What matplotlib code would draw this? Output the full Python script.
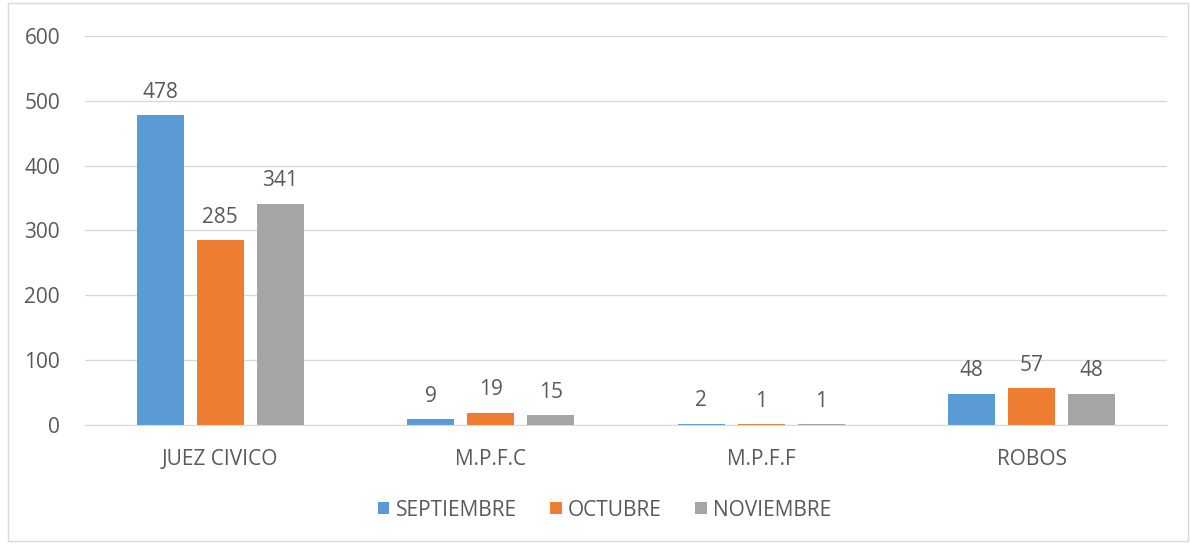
import matplotlib
matplotlib.use("Agg")
import matplotlib.pyplot as plt
import numpy as np
from matplotlib.patches import Rectangle

categories = ["JUEZ CIVICO", "M.P.F.C", "M.P.F.F", "ROBOS"]
series_names = ["SEPTIEMBRE", "OCTUBRE", "NOVIEMBRE"]
septiembre = [478, 9, 2, 48]
octubre = [285, 19, 1, 57]
noviembre = [341, 15, 1, 48]
colors = ["#5B9BD5", "#ED7D31", "#A5A5A5"]
yticks = [0, 100, 200, 300, 400, 500, 600]

plt.rcParams['font.family'] = ['Open Sans', 'DejaVu Sans']
txt_color = '#595959'
fs = 15

fig = plt.figure(figsize=(11.9, 5.44), dpi=100)
ax = fig.add_axes([85/1190, 1-425/544, (1167-85)/1190, (425-36)/544])

x = np.arange(len(categories))
width = 0.174
offsets = [-0.222, 0, 0.222]
for vals, name, c, off in zip([septiembre, octubre, noviembre], series_names, colors, offsets):
    bars = ax.bar(x + off, vals, width, color=c, label=name, zorder=3)
    for b, v in zip(bars, vals):
        ax.annotate(str(v), (b.get_x() + b.get_width()/2, v), xytext=(0, 9),
                    textcoords='offset points', ha='center', va='bottom',
                    fontsize=fs, color=txt_color)

ax.set_xlim(-0.5, len(categories) - 0.5)
ax.set_ylim(0, 600)
ax.set_yticks(yticks)
ax.set_xticks(x)
ax.set_xticklabels(categories)
ax.tick_params(axis='both', length=0, labelsize=fs, colors=txt_color)
ax.tick_params(axis='y', pad=18)
ax.tick_params(axis='x', pad=17)
ax.grid(axis='y', color='#D9D9D9', linewidth=1, zorder=0)
for s in ['top', 'right', 'left']:
    ax.spines[s].set_visible(False)
ax.spines['bottom'].set_color('#D9D9D9')
ax.spines['bottom'].set_zorder(4)

leg = fig.legend(loc='center', bbox_to_anchor=(0.508, 1-510/544), ncol=3, frameon=False,
                 fontsize=fs, handlelength=0.55, handleheight=0.55, columnspacing=1.6,
                 handletextpad=0.3)
for t in leg.get_texts():
    t.set_color(txt_color)

fig.patches.append(Rectangle((8/1190, 3/544), 1180/1190, 538/544, transform=fig.transFigure,
                             fill=False, edgecolor='#D9D9D9', linewidth=1))

fig.savefig("out.png", dpi=100)
